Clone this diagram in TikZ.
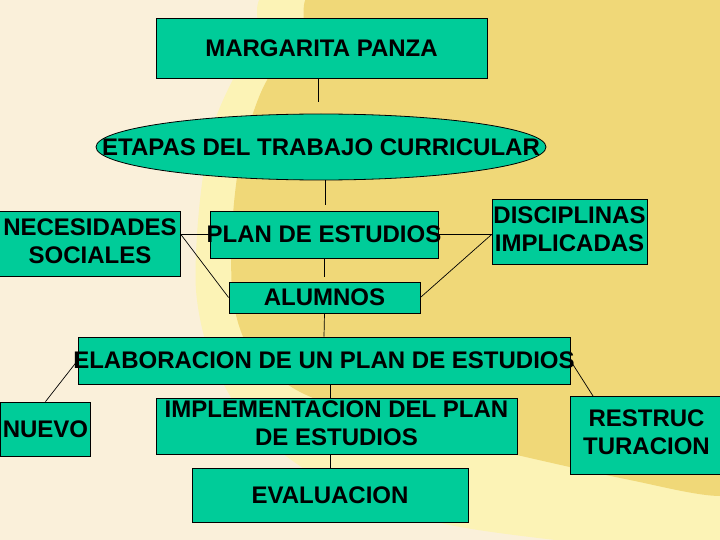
\documentclass[tikz,border=0pt]{standalone}
\usepackage{fontspec}
\setmainfont{Liberation Sans}
\usetikzlibrary{shapes.geometric}
\definecolor{boxgreen}{RGB}{0,204,153}
\definecolor{creambg}{RGB}{250,240,218}
\definecolor{lightyel}{RGB}{252,243,182}
\definecolor{darkyel}{RGB}{240,216,120}
\begin{document}
\begin{tikzpicture}[x=1pt,y=-1pt,
  box/.style={draw=black, line width=0.8pt, fill=boxgreen, inner sep=0pt,
    font=\fontsize{24}{28}\selectfont\bfseries},
  conn/.style={draw=black, line width=0.7pt}]
\useasboundingbox (0,0) rectangle (720,540);
\fill[creambg] (0,0) rectangle (720,540);
\begin{scope}
\clip (0,0) rectangle (720,540);
\fill[lightyel] plot[smooth cycle] coordinates {(305,-20) (255,40) (215,120) (200,200) (196,290) (212,360) (255,430) (340,490) (450,525) (600,545) (760,560) (800,300) (780,-20)};
\fill[darkyel] plot[smooth cycle] coordinates {(350,-20) (300,30) (262,90) (240,160) (232,230) (233,300) (250,350) (293,388) (350,412) (420,432) (530,458) (630,480) (720,496) (790,480) (800,200) (780,-20)};
\end{scope}

% nodes
\node[box, minimum width=331pt, minimum height=60pt] (mp) at (321.5,48) {\makebox[0pt]{MARGARITA PANZA}};
\node[box, ellipse, minimum width=450pt, minimum height=66pt] (etapas) at (321,147) {\makebox[0pt]{ETAPAS DEL TRABAJO CURRICULAR}};
\node[box, minimum width=181pt, minimum height=65pt] (nec) at (90,243.5) {\makebox[0pt]{\begin{tabular}{@{}c@{}}NECESIDADES\\SOCIALES\end{tabular}}};
\node[box, minimum width=228pt, minimum height=47pt] (plan) at (324,234.5) {\makebox[0pt]{PLAN DE ESTUDIOS}};
\node[box, minimum width=155pt, minimum height=65pt] (disc) at (569.5,231.5) {\makebox[0pt]{\begin{tabular}{@{}c@{}}DISCIPLINAS\\IMPLICADAS\end{tabular}}};
\node[box, minimum width=191pt, minimum height=31pt] (alum) at (324.5,297.5) {\makebox[0pt]{ALUMNOS}};
\node[box, minimum width=492pt, minimum height=47pt] (elab) at (324,360.5) {\makebox[0pt]{ELABORACION DE UN PLAN DE ESTUDIOS}};
\node[box, minimum width=90pt, minimum height=54pt] (nuevo) at (45.5,429) {\makebox[0pt]{NUEVO}};
\node[box, minimum width=361pt, minimum height=48pt] (impl) at (336.5,426) {\makebox[0pt]{\begin{tabular}{@{}c@{}}IMPLEMENTACION DEL PLAN\\DE ESTUDIOS\end{tabular}}};
\node[box, minimum width=276pt, minimum height=54pt] (eval) at (330,495) {\makebox[0pt]{EVALUACION}};
\node[box, minimum width=153pt, minimum height=78pt] (restruc) at (646.5,435) {\makebox[0pt]{\begin{tabular}{@{}c@{}}RESTRUC\\TURACION\end{tabular}}};

% connector end points
\coordinate (c1) at (318,102);
\coordinate (c2) at (325,205);
\coordinate (c3) at (324,277);
\coordinate (nj) at (nec.east |- plan.west);
\coordinate (dj) at (disc.west |- plan.east);
\coordinate (rtop) at (593,396);

% connectors
\draw[conn] (mp.south -| c1) -- (c1);
\draw[conn] (etapas.south -| c2) -- (c2);
\draw[conn] (nj) -- (plan.west);
\draw[conn] (plan.east) -- (dj);
\draw[conn] (plan.south) -- (c3);
\draw[conn] (nj) -- (alum.west);
\draw[conn] (dj) -- (alum.east);
\draw[conn] (alum.south) -- (elab.north);
\draw[conn] (elab.south -| eval.north) -- (impl.north -| eval.north);
\draw[conn] (impl.south -| eval.north) -- (eval.north);
\draw[conn] (elab.west) -- (nuevo.north);
\draw[conn] (elab.east) -- (rtop);
\end{tikzpicture}
\end{document}
